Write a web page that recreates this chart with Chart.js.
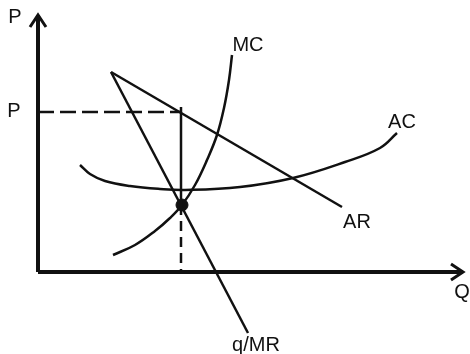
<!DOCTYPE html>
<html>
<head>
<meta charset="utf-8">
<script src="https://cdn.jsdelivr.net/npm/chart.js@4.4.0/dist/chart.umd.min.js"></script>
<style>
  html, body { margin: 0; padding: 0; background: #fff; }
  #wrap { width: 470px; height: 354px; position: relative; }
</style>
</head>
<body>
<div id="wrap"><canvas id="firmChart"></canvas></div>
<script>
// quantity on x, price on y (origin where the axes meet)
const arLine = [{x: 73, y: 200}, {x: 304, y: 65}];
const mrLine = [{x: 73, y: 200}, {x: 210, y: -61}];
const mcCurve = [{x: 75, y: 17}, {x: 97, y: 27}, {x: 117, y: 41}, {x: 132, y: 54}, {x: 144, y: 67}, {x: 157, y: 87}, {x: 169, y: 112}, {x: 179, y: 137}, {x: 186, y: 164}, {x: 191, y: 192}, {x: 194, y: 217}];
const acCurve = [{x: 42, y: 107}, {x: 52, y: 98}, {x: 67, y: 91}, {x: 92, y: 86}, {x: 122, y: 83}, {x: 147, y: 82}, {x: 202, y: 85}, {x: 255, y: 94}, {x: 307, y: 110}, {x: 342, y: 124}, {x: 359, y: 139}];
const priceLine = [{x: 0, y: 160}, {x: 142, y: 160}];
const qtyUpper = [{x: 143, y: 165}, {x: 143, y: 67}];
const qtyLower = [{x: 143, y: 67}, {x: 143, y: 0}];
const equilibrium = [{x: 144, y: 67}];
const yAxis = [{x: 0, y: 0}, {x: 0, y: 257}];
const xAxis = [{x: 0, y: 0}, {x: 425, y: 0}];
const yArrow = [{x: -8, y: 245}, {x: 0, y: 257}, {x: 8, y: 245}];
const xArrow = [{x: 413, y: 8}, {x: 425, y: 0}, {x: 413, y: -8}];

const labels = [
    {text: 'P', x: -23, y: 255},
    {text: 'P', x: -24, y: 161},
    {text: 'MC', x: 210, y: 227},
    {text: 'AC', x: 364, y: 150},
    {text: 'AR', x: 319, y: 50},
    {text: 'q/MR', x: 218, y: -73},
    {text: 'Q', x: 424, y: -20}
];

const ink = '#111';

function line(data, width, dash) {
    return {
        data: data,
        borderColor: ink,
        borderWidth: width,
        borderDash: dash || [],
        pointRadius: 0,
        showLine: true,
        fill: false,
        tension: 0
    };
}

function curve(data) {
    const d = line(data, 2.5);
    d.tension = 0.4;
    return d;
}

const labelPlugin = {
    id: 'labels',
    afterDatasetsDraw(chart) {
        const c = chart.ctx;
        const xs = chart.scales.x, ys = chart.scales.y;
        c.save();
        c.fillStyle = ink;
        c.font = '20px "Liberation Sans", Arial, sans-serif';
        c.textAlign = 'center';
        c.textBaseline = 'middle';
        labels.forEach(l => {
            c.fillText(l.text, xs.getPixelForValue(l.x), ys.getPixelForValue(l.y));
        });
        c.restore();
    }
};

new Chart(document.getElementById('firmChart').getContext('2d'), {
    type: 'scatter',
    data: {
        datasets: [
            line(yAxis, 4),
            line(xAxis, 4),
            line(yArrow, 3),
            line(xArrow, 3),
            line(priceLine, 2.5, [16, 6]),
            line(qtyUpper, 2.5),
            line(qtyLower, 2.5, [10, 6]),
            line(arLine, 2.5),
            line(mrLine, 2.5),
            curve(mcCurve),
            curve(acCurve),
            {
                data: equilibrium,
                backgroundColor: ink,
                borderColor: ink,
                pointRadius: 6,
                showLine: false
            }
        ]
    },
    options: {
        responsive: true,
        maintainAspectRatio: false,
        animation: false,
        events: [],
        layout: { padding: 0, autoPadding: false },
        scales: {
            x: { type: 'linear', min: -38, max: 432, display: false },
            y: { type: 'linear', min: -82, max: 272, display: false }
        },
        plugins: {
            legend: { display: false },
            tooltip: { enabled: false }
        }
    },
    plugins: [labelPlugin]
});
</script>
</body>
</html>
